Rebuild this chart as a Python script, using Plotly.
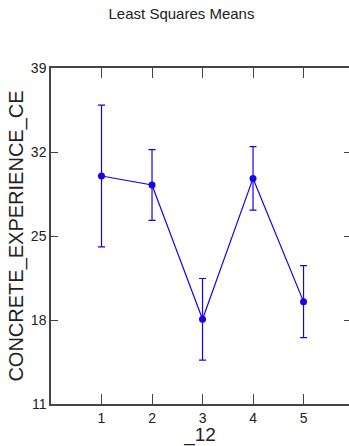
import plotly.graph_objects as go

categories = [1, 2, 3, 4, 5]
means = [30.0, 29.25, 18.06, 29.8, 19.53]
err = [5.9, 2.95, 3.4, 2.65, 3.0]
y_ticks = [11, 18, 25, 32, 39]

blue = "#1a00e6"
axis_col = "#444444"
font = "Liberation Sans, Arial, sans-serif"

fig = go.Figure()
fig.add_trace(go.Scatter(
    x=categories, y=means, mode="lines+markers",
    line=dict(color=blue, width=1.2),
    marker=dict(color=blue, size=7),
    error_y=dict(type="data", array=err, visible=True, color=blue, thickness=1.2, width=3.5),
    showlegend=False,
))
# invisible trace for the right-side ticks
fig.add_trace(go.Scatter(x=categories, y=means, yaxis="y2", mode="markers",
                         marker=dict(opacity=0), showlegend=False, hoverinfo="skip"))

fig.update_layout(
    width=349, height=446,
    margin=dict(l=51, r=0, t=68, b=42),
    paper_bgcolor="white", plot_bgcolor="white",
    font=dict(family=font, color="#222222", size=14),
    title=dict(text="Least Squares Means", x=181.5 / 349, xref="container", xanchor="center",
               y=1 - 14 / 446, yref="container", yanchor="middle",
               font=dict(size=15, family=font, color="#222222")),
    xaxis=dict(range=[0, 5.9], tickvals=categories, ticktext=[str(c) for c in categories],
               ticks="inside", ticklen=10, tickcolor=axis_col, tickwidth=1,
               showline=True, linecolor=axis_col, linewidth=1.5, mirror="ticks",
               showgrid=False, zeroline=False,
               title=dict(text="_12", font=dict(size=19, family=font, color="#222222"), standoff=2),
               tickfont=dict(size=14)),
    yaxis=dict(range=[11, 39], tickvals=y_ticks, ticks="inside", ticklen=7,
               tickcolor=axis_col, tickwidth=1,
               showline=True, linecolor=axis_col, linewidth=1.5,
               showgrid=False, zeroline=False,
               title=dict(text="CONCRETE_EXPERIENCE_CE", font=dict(size=20, family=font, color="#222222"), standoff=2),
               tickfont=dict(size=14)),
    yaxis2=dict(range=[11, 39], tickvals=y_ticks, ticks="inside", ticklen=5,
                tickcolor=axis_col, side="right", overlaying="y",
                showline=False, showticklabels=False, showgrid=False, zeroline=False),
)

fig.write_html("out.html")
